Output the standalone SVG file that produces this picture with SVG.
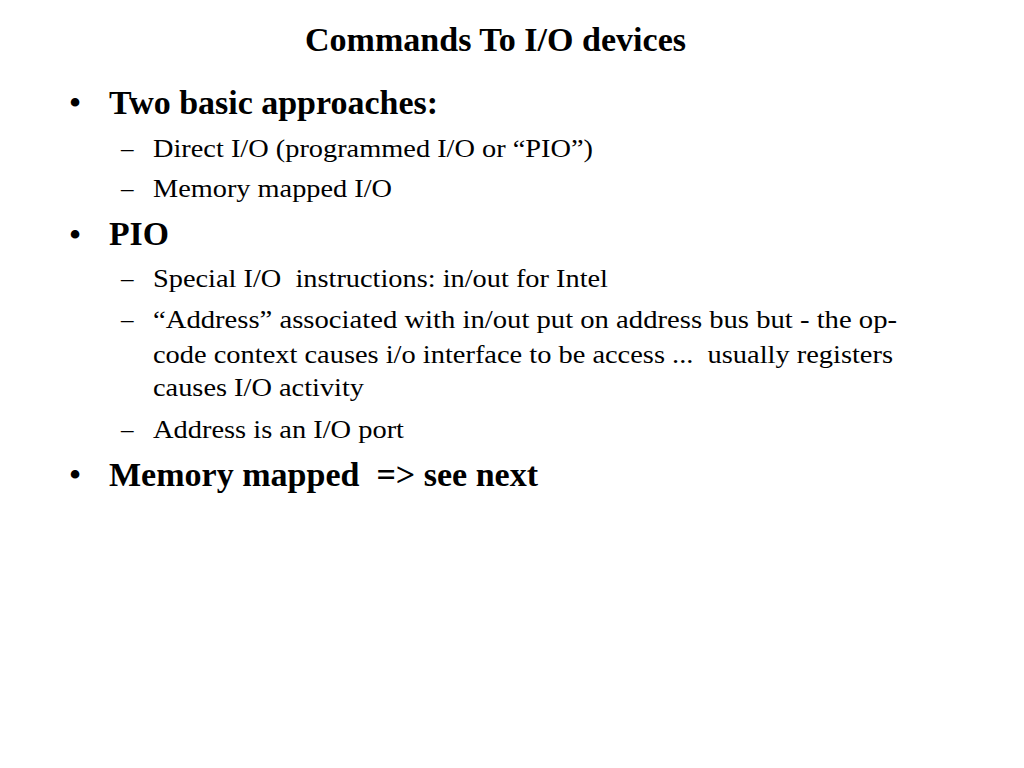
<svg xmlns="http://www.w3.org/2000/svg" width="1024" height="768" viewBox="0 0 1024 768">
<style>
text{font-family:"Liberation Serif","Times New Roman",serif;fill:#000}
.t{font-size:33px;font-weight:bold}
.l1{font-size:34px;font-weight:bold}
.l2{font-size:25px}
.b{font-size:36px;text-anchor:middle}
</style>
<rect width="1024" height="768" fill="#fff"/>
<g id="title"><text class="t" x="305" y="51" textLength="381" lengthAdjust="spacingAndGlyphs">Commands To I/O devices</text></g>
<g id="item1">
<text class="b" x="75" y="115">•</text>
<text class="l1" x="109" y="114" textLength="329" lengthAdjust="spacingAndGlyphs">Two basic approaches:</text>
</g>
<g id="item1a">
<text class="l2" x="121" y="157">–</text>
<text class="l2" x="153" y="157" textLength="440" lengthAdjust="spacingAndGlyphs">Direct I/O (programmed I/O or “PIO”)</text>
</g>
<g id="item1b">
<text class="l2" x="121" y="197">–</text>
<text class="l2" x="153" y="197" textLength="239" lengthAdjust="spacingAndGlyphs">Memory mapped I/O</text>
</g>
<g id="item2">
<text class="b" x="75" y="247">•</text>
<text class="l1" x="109" y="245" textLength="60" lengthAdjust="spacingAndGlyphs">PIO</text>
</g>
<g id="item2a">
<text class="l2" x="121" y="287">–</text>
<text class="l2" x="153" y="287" textLength="455" lengthAdjust="spacingAndGlyphs" xml:space="preserve">Special I/O  instructions: in/out for Intel</text>
</g>
<g id="item2b">
<text class="l2" x="121" y="328">–</text>
<text class="l2" x="153" y="328" textLength="744" lengthAdjust="spacingAndGlyphs">“Address” associated with in/out put on address bus but - the op-</text>
<text class="l2" x="153" y="363" textLength="740" lengthAdjust="spacingAndGlyphs" xml:space="preserve">code context causes i/o interface to be access ...  usually registers</text>
<text class="l2" x="153" y="396" textLength="211" lengthAdjust="spacingAndGlyphs">causes I/O activity</text>
</g>
<g id="item2c">
<text class="l2" x="121" y="438">–</text>
<text class="l2" x="153" y="438" textLength="251" lengthAdjust="spacingAndGlyphs">Address is an I/O port</text>
</g>
<g id="item3">
<text class="b" x="75" y="487">•</text>
<text class="l1" x="109" y="486" textLength="429" lengthAdjust="spacingAndGlyphs" xml:space="preserve">Memory mapped  =&gt; see next</text>
</g>
</svg>
